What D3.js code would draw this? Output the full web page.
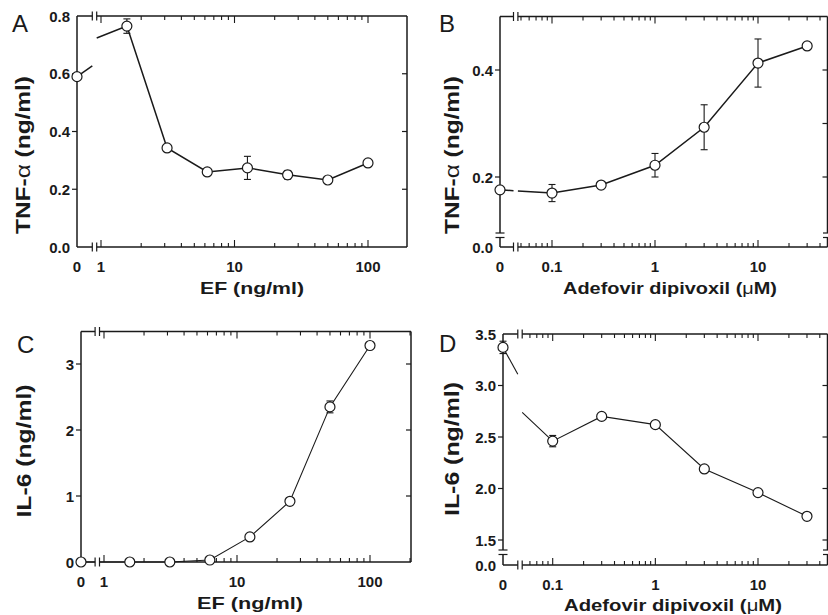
<!DOCTYPE html>
<html>
<head>
<meta charset="utf-8">
<script src="https://cdn.jsdelivr.net/npm/d3@7"></script>
<style>
    body { margin: 0; background: #fff; }
    svg { display: block; font-family: Arial, "Liberation Sans", Helvetica, sans-serif; }
</style>
</head>
<body>
<svg id="chart" width="828" height="615"></svg>
<script>
// dosis (0 = control, dibujado sobre el eje izquierdo)
var efDoses = [0, 1.5625, 3.125, 6.25, 12.5, 25, 50, 100];
var adefovirDoses = [0, 0.1, 0.3, 1, 3, 10, 30];

// A: TNF-alfa vs EF
var tnfEF = [0.59, 0.765, 0.343, 0.26, 0.274, 0.25, 0.232, 0.291];
var tnfEFErr = [0, 0.025, 0, 0, 0.04, 0.015, 0, 0];
var tnfEFStub = [0.627, 0.724];

// B: TNF-alfa vs adefovir
var tnfAdefovir = [0.176, 0.170, 0.185, 0.222, 0.293, 0.413, 0.445];
var tnfAdefovirErr = [0, 0.016, 0, 0.022, 0.042, 0.045, 0];

// C: IL-6 vs EF
var il6EF = [0, 0, 0, 0.03, 0.38, 0.92, 2.35, 3.28];
var il6EFErr = [0, 0, 0, 0, 0, 0, 0.09, 0];

// D: IL-6 vs adefovir
var il6Adefovir = [3.37, 2.46, 2.70, 2.62, 2.19, 1.96, 1.73];
var il6AdefovirErr = [0.06, 0.055, 0, 0, 0, 0, 0];
var il6AdefovirStub = [3.11, 2.74];

// etiquetas de los ejes
var efTicks = [1, 10, 100];
var efTickLabels = ["1", "10", "100"];
var adefovirTicks = [0.1, 1, 10];
var adefovirTickLabels = ["0.1", "1", "10"];
var tnfEFYTicks = [0, 0.2, 0.4, 0.6, 0.8];
var tnfAdefovirYTicks = [0, 0.2, 0.4];
var tnfAdefovirYRight = [0.2, 0.3, 0.4];
var il6EFYTicks = [0, 1, 2, 3];
var il6AdefovirYTicks = [0, 1.5, 2.0, 2.5, 3.0, 3.5];

var ink = "#1a1a1a";
var svg = d3.select("#chart");

var panels = [
    {
        letter: "A", lx: 12, ly: 32,
        left: 77, right: 407, top: 16, bottom: 247, breakX: 94.5,
        xAnchor: [1, 100], xAnchorPx: [101, 368],
        yAnchor: [0, 0.8], yAnchorPx: [247, 16], yBreak: null,
        doses: efDoses, values: tnfEF, errors: tnfEFErr, stub: tnfEFStub,
        xTicks: efTicks, xTickLabels: efTickLabels,
        yTicks: tnfEFYTicks, yRight: [0.2, 0.4, 0.6], yFmt: d3.format(".1f"),
        yTitle: ["TNF-", "\u03b1", " (ng/ml)"], yTitleX: 30, yTitleY: 155, yTitleLen: 158,
        xTitle: ["EF (ng/ml)"], xTitleX: 252, xTitleY: 294, xTitleLen: 104,
        lineWidth: 1.5
    },
    {
        letter: "B", lx: 439, ly: 32,
        left: 500, right: 827.5, top: 16.5, bottom: 247, breakX: 515.7,
        xAnchor: [0.1, 10], xAnchorPx: [552, 758],
        yAnchor: [0.2, 0.4], yAnchorPx: [177, 70], yBreak: [233, 237.5],
        doses: adefovirDoses, values: tnfAdefovir, errors: tnfAdefovirErr, stub: null,
        xTicks: adefovirTicks, xTickLabels: adefovirTickLabels,
        yTicks: tnfAdefovirYTicks, yRight: tnfAdefovirYRight, yFmt: d3.format(".1f"),
        yTitle: ["TNF-", "\u03b1", " (ng/ml)"], yTitleX: 459, yTitleY: 155, yTitleLen: 158,
        xTitle: ["Adefovir dipivoxil (", "\u03bc", "M)"], xTitleX: 670, xTitleY: 294, xTitleLen: 214,
        lineWidth: 1.5
    },
    {
        letter: "C", lx: 17, ly: 353,
        left: 81, right: 411, top: 331.5, bottom: 562, breakX: 97.3,
        xAnchor: [1, 100], xAnchorPx: [104, 370],
        yAnchor: [0, 3], yAnchorPx: [562, 364], yBreak: null,
        doses: efDoses, values: il6EF, errors: il6EFErr, stub: null,
        xTicks: efTicks, xTickLabels: efTickLabels,
        yTicks: il6EFYTicks, yRight: [1, 2, 3], yFmt: d3.format("d"),
        yTitle: ["IL-6 (ng/ml)"], yTitleX: 31, yTitleY: 451, yTitleLen: 133,
        xTitle: ["EF (ng/ml)"], xTitleX: 250, xTitleY: 609, xTitleLen: 106,
        lineWidth: 1.1
    },
    {
        letter: "D", lx: 439, ly: 352,
        left: 503, right: 827.5, top: 334, bottom: 565, breakX: 520,
        xAnchor: [0.1, 10], xAnchorPx: [552.7, 758],
        yAnchor: [1.5, 3.5], yAnchorPx: [540, 334], yBreak: [550, 554.5],
        doses: adefovirDoses, values: il6Adefovir, errors: il6AdefovirErr, stub: il6AdefovirStub,
        xTicks: adefovirTicks, xTickLabels: adefovirTickLabels,
        yTicks: il6AdefovirYTicks, yRight: [1.5, 2.0, 2.5, 3.0], yFmt: d3.format(".1f"),
        yTitle: ["IL-6 (ng/ml)"], yTitleX: 459, yTitleY: 449, yTitleLen: 134,
        xTitle: ["Adefovir dipivoxil (", "\u03bc", "M)"], xTitleX: 673, xTitleY: 611, xTitleLen: 218,
        lineWidth: 1.1
    }
];

panels.forEach(drawPanel);

function drawPanel(p) {
    var g = svg.append("g");
    var gap = 2.2;
    var x = d3.scaleLog().domain(p.xAnchor).range(p.xAnchorPx);
    var y = d3.scaleLinear().domain(p.yAnchor).range(p.yAnchorPx);
    var xPos = function (v) { return v === 0 ? p.left : x(v); };
    var yPos = function (v) { return (v === 0 && p.yBreak) ? p.bottom : y(v); };

    function seg(x1, y1, x2, y2, w) {
        g.append("line")
            .attr("x1", x1).attr("y1", y1).attr("x2", x2).attr("y2", y2)
            .style("stroke", ink).style("stroke-width", w || 1.5);
    }

    // marco con cortes en el eje x
    [p.bottom, p.top].forEach(function (yy) {
        seg(p.left, yy, p.breakX - gap, yy);
        seg(p.breakX + gap, yy, p.right, yy);
        seg(p.breakX - gap, yy - 4.5, p.breakX - gap, yy + 4.5, 1.2);
        seg(p.breakX + gap, yy - 4.5, p.breakX + gap, yy + 4.5, 1.2);
    });
    [p.left, p.right].forEach(function (xx) {
        if (p.yBreak) {
            seg(xx, p.top, xx, p.yBreak[0]);
            seg(xx, p.yBreak[1], xx, p.bottom);
            seg(xx - 4.5, p.yBreak[0], xx + 4.5, p.yBreak[0], 1.2);
            seg(xx - 4.5, p.yBreak[1], xx + 4.5, p.yBreak[1], 1.2);
        } else {
            seg(xx, p.top, xx, p.bottom);
        }
    });

    // marcas logaritmicas (hacia dentro, arriba y abajo)
    var lo = x.invert(p.breakX + gap), hi = x.invert(p.right);
    for (var k = Math.floor(Math.log10(lo)); k <= Math.ceil(Math.log10(hi)); k++) {
        for (var m = 1; m <= 9; m++) {
            var v = m * Math.pow(10, k);
            if (v < lo || v > hi) continue;
            var len = m === 1 ? 7 : 4;
            var px = x(v);
            seg(px, p.bottom, px, p.bottom - len, 1.1);
            seg(px, p.top, px, p.top + len, 1.1);
        }
    }

    // etiquetas del eje x
    var xl = [{ v: 0, t: "0" }].concat(p.xTicks.map(function (v, i) { return { v: v, t: p.xTickLabels[i] }; }));
    g.selectAll(".xtl").data(xl).enter().append("text")
        .attr("x", function (d) { return xPos(d.v); })
        .attr("y", p.bottom + 25)
        .attr("text-anchor", "middle")
        .style("font-size", "15px").style("font-weight", "bold").style("fill", ink)
        .text(function (d) { return d.t; });

    // marcas y etiquetas del eje y
    p.yTicks.forEach(function (v) {
        var py = yPos(v);
        if (Math.abs(py - p.top) > 1 && Math.abs(py - p.bottom) > 1) seg(p.left, py, p.left - 5, py, 1.2);
        g.append("text")
            .attr("x", p.left - 7).attr("y", py + 5.5)
            .attr("text-anchor", "end")
            .style("font-size", "15px").style("font-weight", "bold").style("fill", ink)
            .text(p.yFmt(v));
    });
    p.yRight.forEach(function (v) {
        seg(p.right, y(v), p.right - 5, y(v), 1.2);
    });

    // linea de datos, con el tramo cortado entre el control y la primera dosis
    var pts = p.doses.map(function (d, i) { return [xPos(d), yPos(p.values[i])]; });
    var xa = p.breakX - gap, xb = p.breakX + gap;
    var ya, yb;
    if (p.stub) {
        ya = y(p.stub[0]); yb = y(p.stub[1]);
    } else {
        var t0 = pts[0], t1 = pts[1];
        ya = t0[1] + (t1[1] - t0[1]) * (xa - t0[0]) / (t1[0] - t0[0]);
        yb = t0[1] + (t1[1] - t0[1]) * (xb - t0[0]) / (t1[0] - t0[0]);
    }
    var line = d3.line();
    var lineStyle = function (sel) {
        sel.style("fill", "none").style("stroke", ink).style("stroke-width", p.lineWidth);
    };
    g.append("path").attr("d", line([pts[0], [xa, ya]])).call(lineStyle);
    g.append("path").attr("d", line([[xb, yb]].concat(pts.slice(1)))).call(lineStyle);

    // barras de error
    p.doses.forEach(function (d, i) {
        var e = p.errors[i];
        if (!e) return;
        var cx = xPos(d), y1 = y(p.values[i] - e), y2 = y(p.values[i] + e);
        seg(cx, y1, cx, y2, 1.1);
        seg(cx - 3.5, y1, cx + 3.5, y1, 1.1);
        seg(cx - 3.5, y2, cx + 3.5, y2, 1.1);
    });

    // puntos
    g.selectAll(".pt").data(p.doses).enter().append("circle")
        .attr("cx", function (d) { return xPos(d); })
        .attr("cy", function (d, i) { return yPos(p.values[i]); })
        .attr("r", 5)
        .style("fill", "#fff").style("stroke", ink).style("stroke-width", 1.2);

    // letra del panel
    g.append("text")
        .attr("x", p.lx).attr("y", p.ly)
        .style("font-size", "24px").style("fill", ink)
        .text(p.letter);

    // titulos de los ejes
    var yt = g.append("text")
        .attr("transform", "translate(" + p.yTitleX + "," + p.yTitleY + ") rotate(-90)")
        .attr("text-anchor", "middle")
        .attr("textLength", p.yTitleLen).attr("lengthAdjust", "spacingAndGlyphs")
        .style("font-size", "21px").style("font-weight", "bold").style("fill", ink);
    p.yTitle.forEach(function (s, i) {
        yt.append("tspan").style("font-weight", i === 1 ? "normal" : "bold").text(s);
    });

    var xt = g.append("text")
        .attr("x", p.xTitleX).attr("y", p.xTitleY)
        .attr("text-anchor", "middle")
        .attr("textLength", p.xTitleLen).attr("lengthAdjust", "spacingAndGlyphs")
        .style("font-size", "17px").style("font-weight", "bold").style("fill", ink);
    p.xTitle.forEach(function (s, i) {
        xt.append("tspan").style("font-weight", i === 1 ? "normal" : "bold").text(s);
    });
}
</script>
</body>
</html>
